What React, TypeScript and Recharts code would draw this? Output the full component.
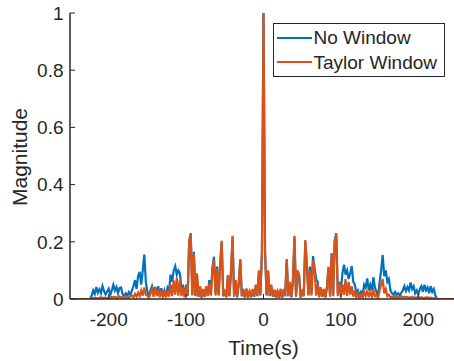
import React from 'react';
import { LineChart, Line, XAxis, YAxis, Label } from 'recharts';

// sample times (s): -250, then -230..230 every 2 s, then 250
const sampleStart = -230;
const sampleStep = 2;
const sampleCount = 231;
const times: number[] = [
  -250,
  ...Array.from({ length: sampleCount }, (_, i) => sampleStart + sampleStep * i),
  250,
];

const noWindow: number[] = [
  0,
  0, 0, 0, 0,
  0.012, 0.03, 0.018, 0.042, 0.022, 0.034, 0.02, 0.045, 0.028, 0.016, 0.026, 0.036,
  0.014, 0.03, 0.05, 0.03, 0.042, 0.02, 0.038, 0.04, 0.016, 0.012,
  0.02, 0.01, 0.024, 0.014, 0.03, 0.045, 0.066, 0.035, 0.08, 0.095,
  0.05, 0.1, 0.155, 0.06, 0.025, 0.01, 0.03, 0.045, 0.02, 0.042,
  0.018, 0.045, 0.012, 0.038, 0.012, 0.03, 0.008, 0.04, 0.03, 0.085,
  0.06, 0.1, 0.115, 0.085, 0.1, 0.09, 0.04, 0.045, 0.01, 0.05,
  0.012, 0.205, 0.23, 0.015, 0.165, 0.012, 0.085, 0.008, 0.04, 0.005,
  0.03, 0.008, 0.04, 0.012, 0.066, 0.015, 0.11, 0.148, 0.02, 0.113,
  0.015, 0.12, 0.2, 0.01, 0.025, 0.006, 0.08, 0.01, 0.09, 0.215,
  0.008, 0.06, 0.006, 0.05, 0.135, 0.01, 0.03, 0.005, 0.03, 0.005,
  0.025, 0.006, 0.03, 0.008, 0.045, 0.01, 0.09, 0.012, 0.16,
  1,
  0.16, 0.012, 0.09, 0.01, 0.045, 0.008, 0.03, 0.005, 0.025, 0.004,
  0.03, 0.005, 0.03, 0.01, 0.135, 0.01, 0.05, 0.006, 0.06, 0.215,
  0.008, 0.09, 0.08, 0.005, 0.025, 0.01, 0.2, 0.12, 0.015, 0.113,
  0.02, 0.15, 0.11, 0.069, 0.06, 0.012, 0.04, 0.01, 0.03, 0.006,
  0.04, 0.11, 0.01, 0.16, 0.012, 0.205, 0.23, 0.02, 0.06, 0.03,
  0.09, 0.12, 0.085, 0.1, 0.07, 0.09, 0.115, 0.06, 0.05, 0.02,
  0.03, 0.01, 0.025, 0.015, 0.05, 0.04, 0.072, 0.03, 0.05, 0.03,
  0.076, 0.04, 0.025, 0.01, 0.06, 0.1, 0.154, 0.08, 0.1, 0.06,
  0.07, 0.03, 0.02, 0.015, 0.025, 0.015, 0.02, 0.012, 0.022, 0.03,
  0.045, 0.028, 0.042, 0.03, 0.058, 0.035, 0.045, 0.02, 0.03, 0.015,
  0.035, 0.045, 0.025, 0.05, 0.03, 0.04, 0.02, 0.045, 0.025, 0.035,
  0.012, 0, 0, 0, 0,
  0,
];

const taylorWindow: number[] = [
  0,
  0, 0, 0, 0,
  0.003, 0.002, 0.004, 0.003, 0.002, 0.004, 0.006, 0.003, 0.005, 0.004, 0.002, 0.006,
  0.004, 0.007, 0.005, 0.008, 0.004, 0.006, 0.009, 0.005, 0.007, 0.004,
  0.006, 0.008, 0.005, 0.01, 0.012, 0.006, 0.018, 0.008, 0.022, 0.01,
  0.03, 0.012, 0.04, 0.015, 0.012, 0.004, 0.02, 0.035, 0.008, 0.038,
  0.01, 0.032, 0.006, 0.03, 0.008, 0.025, 0.005, 0.03, 0.008, 0.05,
  0.01, 0.065, 0.015, 0.075, 0.012, 0.065, 0.01, 0.04, 0.006, 0.045,
  0.01, 0.2, 0.225, 0.012, 0.16, 0.01, 0.09, 0.008, 0.045, 0.005,
  0.035, 0.008, 0.045, 0.01, 0.055, 0.012, 0.1, 0.136, 0.012, 0.105,
  0.012, 0.12, 0.204, 0.01, 0.03, 0.006, 0.084, 0.01, 0.1, 0.221,
  0.01, 0.066, 0.008, 0.06, 0.14, 0.01, 0.035, 0.005, 0.037, 0.006,
  0.03, 0.008, 0.035, 0.01, 0.05, 0.012, 0.1, 0.015, 0.17,
  1,
  0.17, 0.015, 0.1, 0.012, 0.05, 0.01, 0.033, 0.006, 0.03, 0.005,
  0.036, 0.006, 0.035, 0.01, 0.14, 0.01, 0.06, 0.008, 0.066, 0.221,
  0.01, 0.1, 0.084, 0.006, 0.03, 0.01, 0.206, 0.12, 0.012, 0.1,
  0.012, 0.136, 0.1, 0.012, 0.05, 0.006, 0.04, 0.008, 0.035, 0.005,
  0.045, 0.113, 0.008, 0.16, 0.01, 0.2, 0.225, 0.01, 0.055, 0.008,
  0.05, 0.015, 0.07, 0.01, 0.06, 0.015, 0.045, 0.008, 0.03, 0.005,
  0.02, 0.004, 0.015, 0.005, 0.025, 0.01, 0.03, 0.006, 0.025, 0.008,
  0.03, 0.01, 0.015, 0.004, 0.03, 0.05, 0.07, 0.02, 0.035, 0.01,
  0.015, 0.006, 0.008, 0.005, 0.01, 0.004, 0.008, 0.005, 0.009, 0.006,
  0.008, 0.005, 0.007, 0.004, 0.006, 0.008, 0.004, 0.006, 0.005, 0.007,
  0.004, 0.006, 0.003, 0.005, 0.004, 0.006, 0.003, 0.005, 0.003, 0.002,
  0.003, 0, 0, 0, 0,
  0,
];

const xTicks = [-200, -100, 0, 100, 200];
const xTickLabels = ['-200', '-100', '0', '100', '200'];
const yTicks = [0, 0.2, 0.4, 0.6, 0.8, 1];
const yTickLabels = ['0', '0.2', '0.4', '0.6', '0.8', '1'];
const seriesNames = ['No Window', 'Taylor Window'];
const seriesColors = ['#0072BD', '#D95319'];
const xTitle = 'Time(s)';
const yTitle = 'Magnitude';

const data = times.map((t, i) => ({ t, noWindow: noWindow[i], taylor: taylorWindow[i] }));

const AXIS = '#262626';
const FONT = '"Liberation Sans", Arial, Helvetica, sans-serif';
const TICK_LEN = 5;
const X_MARGIN = 14;
const Y_MARGIN = 6.5;
const LINE_W = 2.2;

const BottomTick = (props: any) => {
  const { x, y, payload } = props;
  const axisY = y - X_MARGIN;
  const idx = xTicks.indexOf(payload.value);
  return (
    <g>
      <line x1={x} x2={x} y1={axisY} y2={axisY - TICK_LEN} stroke={AXIS} strokeWidth={1} />
      <text x={x} y={y} dy="0.71em" textAnchor="middle" fill={AXIS} fontSize={19} fontFamily={FONT}>
        {xTickLabels[idx]}
      </text>
    </g>
  );
};

const TopTick = (props: any) => {
  const { x, y } = props;
  return <line x1={x} x2={x} y1={y} y2={y + TICK_LEN} stroke={AXIS} strokeWidth={1} />;
};

const LeftTick = (props: any) => {
  const { x, y, payload } = props;
  const axisX = x + Y_MARGIN;
  const idx = yTicks.indexOf(payload.value);
  return (
    <g>
      <line x1={axisX} x2={axisX + TICK_LEN} y1={y} y2={y} stroke={AXIS} strokeWidth={1} />
      <text x={x} y={y} dy="0.355em" textAnchor="end" fill={AXIS} fontSize={19} fontFamily={FONT}>
        {yTickLabels[idx]}
      </text>
    </g>
  );
};

const RightTick = (props: any) => {
  const { x, y } = props;
  return <line x1={x} x2={x - TICK_LEN} y1={y} y2={y} stroke={AXIS} strokeWidth={1} />;
};

const XTitle = (props: any) => {
  const vb = props.viewBox || { x: 70, y: 299, width: 387, height: 40 };
  return (
    <text x={vb.x + vb.width / 2} y={vb.y + 56} textAnchor="middle" fill={AXIS} fontSize={21} fontFamily={FONT}>
      {xTitle}
    </text>
  );
};

const YTitle = (props: any) => {
  const vb = props.viewBox || { x: 0, y: 13, width: 70, height: 286 };
  const cx = vb.x + 27;
  const cy = vb.y + vb.height / 2 + 1;
  return (
    <text x={cx} y={cy} transform={`rotate(-90 ${cx} ${cy})`} textAnchor="middle" fill={AXIS} fontSize={21} fontFamily={FONT}>
      {yTitle}
    </text>
  );
};

export default function App() {
  return (
    <div style={{ position: 'absolute', left: 0, top: 0, width: 454, height: 361, overflow: 'hidden', background: '#fff' }}>
      <LineChart width={470} height={361} data={data} margin={{ top: 13, right: 13, bottom: 22, left: 0 }}>
        <XAxis
          dataKey="t"
          type="number"
          domain={[-250, 250]}
          ticks={xTicks}
          allowDataOverflow
          height={40}
          tickSize={0}
          tickMargin={X_MARGIN}
          tickLine={false}
          axisLine={{ stroke: AXIS, strokeWidth: 1.5 }}
          tick={<BottomTick />}
          interval={0}
        >
          <Label content={<XTitle />} />
        </XAxis>
        <XAxis
          xAxisId="top"
          orientation="top"
          dataKey="t"
          type="number"
          domain={[-250, 250]}
          ticks={xTicks}
          allowDataOverflow
          height={0}
          tickSize={0}
          tickMargin={0}
          tickLine={false}
          axisLine={{ stroke: AXIS, strokeWidth: 1.5 }}
          tick={<TopTick />}
          interval={0}
        />
        <YAxis
          type="number"
          domain={[0, 1]}
          ticks={yTicks}
          allowDataOverflow
          width={70}
          tickSize={0}
          tickMargin={Y_MARGIN}
          tickLine={false}
          axisLine={{ stroke: AXIS, strokeWidth: 1.5 }}
          tick={<LeftTick />}
          interval={0}
        >
          <Label content={<YTitle />} />
        </YAxis>
        <YAxis
          yAxisId="right"
          orientation="right"
          type="number"
          domain={[0, 1]}
          ticks={yTicks}
          allowDataOverflow
          width={0}
          tickSize={0}
          tickMargin={0}
          tickLine={false}
          axisLine={{ stroke: AXIS, strokeWidth: 1.5 }}
          tick={<RightTick />}
          interval={0}
        />
        <Line
          dataKey="noWindow"
          name={seriesNames[0]}
          stroke={seriesColors[0]}
          strokeWidth={LINE_W}
          dot={false}
          type="linear"
          isAnimationActive={false}
        />
        <Line
          dataKey="taylor"
          name={seriesNames[1]}
          stroke={seriesColors[1]}
          strokeWidth={LINE_W}
          dot={false}
          type="linear"
          isAnimationActive={false}
        />
      </LineChart>
      <div
        style={{
          position: 'absolute',
          left: 273,
          top: 23,
          width: 170,
          height: 52,
          border: `1.5px solid ${AXIS}`,
          background: '#fff',
          fontFamily: FONT,
          fontSize: 19,
          color: AXIS,
        }}
      >
        {seriesNames.map((name, i) => (
          <React.Fragment key={name}>
            <div
              style={{
                position: 'absolute',
                left: 3,
                top: 13 + i * 24,
                width: 35,
                height: 2,
                background: seriesColors[i],
              }}
            />
            <div
              style={{
                position: 'absolute',
                left: 39.5,
                top: 3.4 + i * 25,
                lineHeight: '22px',
                whiteSpace: 'nowrap',
              }}
            >
              {name}
            </div>
          </React.Fragment>
        ))}
      </div>
    </div>
  );
}
